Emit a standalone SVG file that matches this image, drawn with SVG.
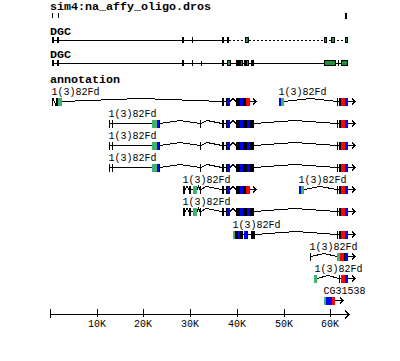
<svg xmlns="http://www.w3.org/2000/svg" xmlns:xlink="http://www.w3.org/1999/xlink" width="400" height="361" viewBox="0 0 400 361" shape-rendering="crispEdges">
<style>
.tt{font-family:"Liberation Mono","DejaVu Sans Mono",monospace;font-weight:bold;font-size:11.67px;fill:#000}
.lb{font-family:"Liberation Mono","DejaVu Sans Mono",monospace;font-size:10px;fill:#000}
.ln{fill:none;stroke:#000;stroke-width:1}
.dash{fill:none;stroke:#000;stroke-width:1;stroke-dasharray:2 2}
.k{fill:#000}.g{fill:#3cb371}.b{fill:#0000ff}.r{fill:#ff0000}
.dg{fill:#1f8f3a;stroke:#000;stroke-width:1}
</style>
<defs>
<g id="tail">
<path class="ln" d="M336 0.5H355M352 -2.5L355 0.5L352 3.5"/>
<rect class="k" x="337" y="-3" width="1" height="8"/>
<rect class="k" x="339" y="-3" width="2" height="8"/>
<rect class="r" x="341" y="-3" width="4" height="8"/>
<rect class="b" x="345" y="-3" width="3" height="8"/>
</g>
<g id="mid">
<path class="ln" d="M222 0.5H227M230 0.5L233 -2.5L236 0.5"/>
<rect class="k" x="222" y="-3" width="2" height="8"/>
<rect class="k" x="226" y="-3" width="1" height="8"/>
<rect class="b" x="227" y="-3" width="3" height="8"/>
<rect class="k" x="236" y="-3" width="4" height="8"/>
<rect class="b" x="240" y="-3" width="3" height="8"/>
</g>
<g id="midlong">
<use xlink:href="#mid"/>
<rect class="k" x="243" y="-3" width="4" height="8"/>
<rect class="b" x="247" y="-3" width="3" height="8"/>
<rect class="k" x="250" y="-3" width="4" height="8"/>
</g>
<g id="midshort">
<use xlink:href="#mid"/>
<rect class="k" x="243" y="-3" width="3" height="8"/>
<rect class="r" x="246" y="-3" width="4" height="8"/>
<path class="ln" d="M250 0.5H256M253 -2.5L256 0.5L253 3.5"/>
</g>
<g id="startA">
<rect class="k" x="109" y="-3" width="1" height="8"/>
<rect class="k" x="112" y="-3" width="1" height="8"/>
<path class="ln" d="M110 0.5H152M160 0.5L180 -2.5L200 0.5M201 0.5L207 -2.5L222 0.5"/>
<rect class="g" x="152" y="-3" width="5" height="8"/>
<rect class="b" x="157" y="-3" width="2" height="8"/>
<rect class="k" x="159" y="-3" width="1" height="8"/>
<rect class="k" x="200" y="-3" width="1" height="8"/>
</g>
<g id="startB">
<rect class="k" x="183" y="-3" width="2" height="8"/>
<path class="ln" d="M185 0.5L187 -2.5L189 0.5M191 0.5H193M197 0.5L198.5 -2.5L200 0.5M201 0.5L206 -2.5L222 0.5"/>
<rect class="k" x="189" y="-3" width="2" height="8"/>
<rect class="g" x="193" y="-3" width="4" height="8"/>
<rect class="k" x="200" y="-3" width="1" height="8"/>
</g>
</defs>
<rect x="0" y="0" width="400" height="361" fill="#fff"/>

<g id="track-sim4">
<text class="tt" x="50" y="10">sim4:na_affy_oligo.dros</text>
<rect class="k" x="52" y="13" width="1" height="5"/>
<rect class="k" x="58" y="13" width="1" height="5"/>
<rect class="k" x="345" y="13" width="2" height="6"/>
</g>

<g id="track-dgc1">
<text class="tt" x="50" y="35">DGC</text>
<path class="ln" d="M52 40.5H229"/>
<path class="dash" d="M229 40.5H346"/>
<rect class="k" x="52" y="37" width="2" height="6"/>
<rect class="k" x="57" y="37" width="2" height="6"/>
<rect class="k" x="182" y="37" width="2" height="6"/>
<rect class="k" x="192" y="37" width="1" height="6"/>
<rect class="k" x="222" y="37" width="2" height="6"/>
<rect class="k" x="227" y="37" width="2" height="6"/>
<rect class="dg" x="245.5" y="37.5" width="3" height="5"/>
<rect class="dg" x="324.5" y="37.5" width="2" height="5"/>
<rect class="dg" x="331.5" y="37.5" width="3" height="5"/>
<rect class="dg" x="345.5" y="37.5" width="1.5" height="5"/>
</g>

<g id="track-dgc2">
<text class="tt" x="50" y="58">DGC</text>
<path class="ln" d="M52 63.5H347"/>
<rect class="k" x="52" y="60" width="2" height="6"/>
<rect class="k" x="57" y="60" width="2" height="6"/>
<rect class="k" x="182" y="60" width="2" height="6"/>
<rect class="k" x="192" y="60" width="1" height="6"/>
<rect class="k" x="201" y="61" width="1" height="5"/>
<rect class="k" x="222" y="60" width="2" height="6"/>
<rect class="dg" x="227.5" y="60.5" width="2.5" height="5"/>
<rect class="k" x="236" y="60" width="4" height="6"/>
<rect class="dg" x="240.5" y="60.5" width="1.5" height="5"/>
<rect class="k" x="244" y="60" width="2" height="6"/>
<rect class="dg" x="246.5" y="60.5" width="2" height="5"/>
<rect class="k" x="251" y="60" width="3" height="6"/>
<rect class="dg" x="324.5" y="60.5" width="10.5" height="5"/>
<rect class="k" x="338" y="60" width="1" height="6"/>
<rect class="dg" x="341.5" y="60.5" width="5.5" height="5"/>
</g>

<g id="track-annotation">
<text class="tt" x="50" y="83">annotation</text>
</g>

<g id="tx1" transform="translate(0,101)">
<text class="lb" x="51.5" y="-6">1(3)82Fd</text>
<rect class="k" x="52" y="-3" width="1" height="8"/>
<path class="ln" d="M53 -2.5L56 4.5M62 0.5L141 -2.5L222 0.5"/>
<rect class="k" x="56" y="-3" width="2" height="8"/>
<rect class="g" x="58" y="-3" width="4" height="8"/>
<use xlink:href="#midshort"/>
</g>
<g id="tx1b" transform="translate(0,101)">
<text class="lb" x="278.5" y="-6">1(3)82Fd</text>
<path class="ln" d="M284 0.5L310 -2.5L337 0.5"/>
<rect class="b" x="279" y="-3" width="2" height="8"/>
<rect class="g" x="281" y="-3" width="3" height="8"/>
<use xlink:href="#tail"/>
</g>

<g id="tx2" transform="translate(0,123)">
<text class="lb" x="108.5" y="-6">1(3)82Fd</text>
<use xlink:href="#startA"/>
<use xlink:href="#midlong"/>
<path class="ln" d="M254 0.5L295 -2.5L337 0.5"/>
<use xlink:href="#tail"/>
</g>

<g id="tx3" transform="translate(0,145)">
<text class="lb" x="108.5" y="-6">1(3)82Fd</text>
<use xlink:href="#startA"/>
<use xlink:href="#midlong"/>
<path class="ln" d="M254 0.5L295 -2.5L337 0.5"/>
<use xlink:href="#tail"/>
</g>

<g id="tx4" transform="translate(0,167)">
<text class="lb" x="108.5" y="-6">1(3)82Fd</text>
<use xlink:href="#startA"/>
<use xlink:href="#midlong"/>
<path class="ln" d="M254 0.5L295 -2.5L337 0.5"/>
<use xlink:href="#tail"/>
</g>

<g id="tx5" transform="translate(0,189)">
<text class="lb" x="182.5" y="-6">1(3)82Fd</text>
<use xlink:href="#startB"/>
<use xlink:href="#midshort"/>
</g>
<g id="tx5b" transform="translate(0,189)">
<text class="lb" x="298.5" y="-6">1(3)82Fd</text>
<path class="ln" d="M304 0.5L320 -2.5L337 0.5"/>
<rect class="b" x="299" y="-3" width="2" height="8"/>
<rect class="g" x="301" y="-3" width="3" height="8"/>
<use xlink:href="#tail"/>
</g>

<g id="tx6" transform="translate(0,211)">
<text class="lb" x="182.5" y="-6">1(3)82Fd</text>
<use xlink:href="#startB"/>
<use xlink:href="#midlong"/>
<path class="ln" d="M254 0.5L295 -2.5L337 0.5"/>
<use xlink:href="#tail"/>
</g>

<g id="tx7" transform="translate(0,234)">
<text class="lb" x="232.5" y="-6">1(3)82Fd</text>
<path class="ln" d="M243 0.5H251M255 0.5L296 -2.5L337 0.5"/>
<rect class="g" x="233" y="-3" width="2" height="8"/>
<rect class="k" x="235" y="-3" width="3" height="8"/>
<rect class="b" x="238" y="-3" width="2" height="8"/>
<rect class="k" x="240" y="-3" width="3" height="8"/>
<rect class="b" x="244" y="-3" width="3" height="8"/>
<rect class="k" x="247" y="-3" width="1" height="8"/>
<rect class="k" x="251" y="-3" width="4" height="8"/>
<use xlink:href="#tail"/>
</g>

<g id="tx8" transform="translate(0,256)">
<text class="lb" x="309.5" y="-6">1(3)82Fd</text>
<path class="ln" d="M311 0.5L324 -2.5L337 0.5H355M352 -2.5L355 0.5L352 3.5"/>
<rect class="k" x="310" y="-3" width="1" height="8"/>
<rect class="g" x="337" y="-3" width="3" height="8"/>
<rect class="r" x="340" y="-3" width="4" height="8"/>
<rect class="k" x="344" y="-3" width="1" height="8"/>
<rect class="b" x="345" y="-3" width="3" height="8"/>
</g>

<g id="tx9" transform="translate(0,278)">
<text class="lb" x="314.5" y="-6">1(3)82Fd</text>
<path class="ln" d="M317 0.5L328 -2.5L339 0.5H355M352 -2.5L355 0.5L352 3.5"/>
<rect class="g" x="314" y="-3" width="3" height="8"/>
<rect class="k" x="339" y="-3" width="1" height="8"/>
<rect class="r" x="341" y="-3" width="4" height="8"/>
<rect class="b" x="345" y="-3" width="3" height="8"/>
</g>

<g id="tx10" transform="translate(0,300)">
<text class="lb" x="323.5" y="-6">CG31538</text>
<path class="ln" d="M335 0.5H343M340 -2.5L343 0.5L340 3.5"/>
<rect class="g" x="324" y="-3" width="2" height="8"/>
<rect class="b" x="326" y="-3" width="6" height="8"/>
<rect class="r" x="332" y="-3" width="3" height="8"/>
</g>

<g id="axis">
<path class="ln" d="M50.5 314.5H349M345 310.5L349 314.5L345 318.5M50.5 309V318M97.5 309V317M143.5 309V317M190.5 309V317M237.5 309V317M284.5 309V317M330.5 309V317"/>
<g class="lb" text-anchor="middle">
<text x="97" y="327">10K</text>
<text x="143" y="327">20K</text>
<text x="190" y="327">30K</text>
<text x="237" y="327">40K</text>
<text x="284" y="327">50K</text>
<text x="330" y="327">60K</text>
</g>
</g>
<g id="connectors"/>
</svg>
